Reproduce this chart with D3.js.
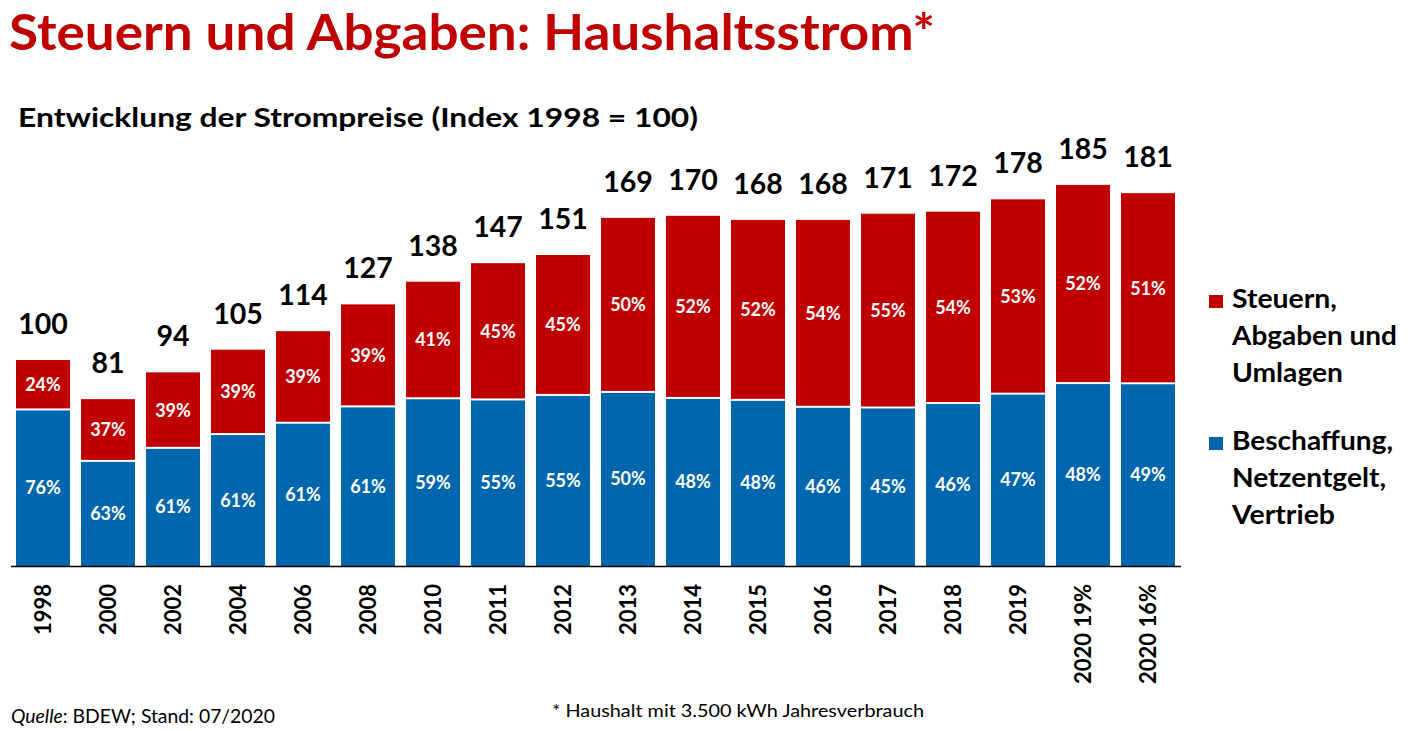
<!DOCTYPE html>
<html>
<head>
<meta charset="utf-8">
<script src="https://cdn.jsdelivr.net/npm/d3@7"></script>
<style>
  html, body { margin: 0; padding: 0; background: #fff; }
  svg { display: block; font-family: Lato, "Open Sans", sans-serif; }
</style>
</head>
<body>
<svg id="chart" width="1412" height="731"></svg>
<script>
// ---- data ----
const categories = ["1998","2000","2002","2004","2006","2008","2010","2011","2012","2013","2014","2015","2016","2017","2018","2019","2020 19%","2020 16%"];
const totals     = [100, 81, 94, 105, 114, 127, 138, 147, 151, 169, 170, 168, 168, 171, 172, 178, 185, 181];
const bluePct    = [76, 63, 61, 61, 61, 61, 59, 55, 55, 50, 48, 48, 46, 45, 46, 47, 48, 49];
const redPct     = [24, 37, 39, 39, 39, 39, 41, 45, 45, 50, 52, 52, 54, 55, 54, 53, 52, 51];
const seriesNames = [["Steuern,", "Abgaben und", "Umlagen"], ["Beschaffung,", "Netzentgelt,", "Vertrieb"]];
const legendWidths = [[105, 165, 111], [161, 154, 103]];

const RED = "#C00000", BLUE = "#0066AE";

const svg = d3.select("#chart");

function fitText(sel, w) {
  sel.attr("textLength", w).attr("lengthAdjust", "spacingAndGlyphs");
}

// Title
svg.append("text").attr("x", 9).attr("y", 50)
  .attr("font-size", 49).attr("font-weight", 700).attr("fill", RED)
  .text("Steuern und Abgaben: Haushaltsstrom*").call(fitText, 926);

// Subtitle
svg.append("text").attr("x", 18).attr("y", 127)
  .attr("font-size", 27).attr("font-weight", 700).attr("fill", "#000")
  .text("Entwicklung der Strompreise (Index 1998 = 100)").call(fitText, 680);

// scales
const x = d3.scaleBand().domain(categories).range([10.5, 1180.5]).paddingInner(11/65).paddingOuter(11/130);
const y = d3.scaleLinear().domain([0, 185]).range([566, 566 - 185 * 2.06]);

const data = categories.map((c, i) => ({
  cat: c, total: totals[i], blue: bluePct[i], red: redPct[i],
  split: totals[i] * bluePct[i] / 100
}));

const g = svg.append("g");

// blue segments
g.selectAll("rect.blue").data(data).enter().append("rect")
  .attr("class", "blue")
  .attr("x", d => x(d.cat)).attr("width", x.bandwidth())
  .attr("y", d => y(d.split) + 1).attr("height", d => y(0) - y(d.split) - 1)
  .attr("fill", BLUE);

// red segments
g.selectAll("rect.red").data(data).enter().append("rect")
  .attr("class", "red")
  .attr("x", d => x(d.cat)).attr("width", x.bandwidth())
  .attr("y", d => y(d.total)).attr("height", d => y(d.split) - y(d.total) - 1)
  .attr("fill", RED);

// percent labels
g.selectAll("text.bl").data(data).enter().append("text")
  .attr("x", d => x(d.cat) + x.bandwidth() / 2)
  .attr("y", d => (y(d.split) + y(0)) / 2).attr("dy", "0.36em")
  .attr("text-anchor", "middle").attr("fill", "#fff")
  .attr("font-size", 18).attr("font-weight", 700)
  .text(d => d.blue + "%");

g.selectAll("text.rl").data(data).enter().append("text")
  .attr("x", d => x(d.cat) + x.bandwidth() / 2)
  .attr("y", d => (y(d.total) + y(d.split)) / 2).attr("dy", "0.36em")
  .attr("text-anchor", "middle").attr("fill", "#fff")
  .attr("font-size", 18).attr("font-weight", 700)
  .text(d => d.red + "%");

// totals
g.selectAll("text.tot").data(data).enter().append("text")
  .attr("x", d => x(d.cat) + x.bandwidth() / 2)
  .attr("y", d => y(d.total) - 26)
  .attr("text-anchor", "middle").attr("fill", "#000")
  .attr("font-size", 28.5).attr("font-weight", 700)
  .text(d => d.total);

// x axis
const axis = svg.append("g").attr("transform", `translate(0,${y(0)})`)
  .call(d3.axisBottom(x).tickSize(0).tickSizeOuter(0));
axis.select(".domain").attr("stroke", "#000").attr("stroke-width", 1.5);
axis.selectAll("text")
  .attr("transform", "rotate(-90)")
  .attr("x", -18).attr("y", 0).attr("dy", "0.36em")
  .attr("text-anchor", "end")
  .attr("font-family", "Lato, sans-serif")
  .attr("font-size", 22).attr("font-weight", 700).attr("fill", "#000");

// legend
const legend = [
  { color: RED, lines: seriesNames[0], widths: legendWidths[0], y0: 308 },
  { color: BLUE, lines: seriesNames[1], widths: legendWidths[1], y0: 450 }
];
legend.forEach(l => {
  svg.append("rect").attr("x", 1209).attr("y", l.y0 - 13).attr("width", 14).attr("height", 13).attr("fill", l.color);
  l.lines.forEach((t, j) => {
    svg.append("text").attr("x", 1232).attr("y", l.y0 + j * 37)
      .attr("font-size", 26).attr("font-weight", 700).attr("fill", "#000").text(t)
      .call(fitText, l.widths[j]);
  });
});

// footer
const src = svg.append("text").attr("x", 11).attr("y", 723).attr("font-size", 18.5).attr("fill", "#000");
src.append("tspan").attr("font-style", "italic").text("Quelle");
src.append("tspan").text(": BDEW; Stand: 07/2020");
src.call(fitText, 264);

svg.append("text").attr("x", 552).attr("y", 717).attr("font-size", 17.5).attr("fill", "#000")
  .text("* Haushalt mit 3.500 kWh Jahresverbrauch").call(fitText, 372);
</script>
</body>
</html>
